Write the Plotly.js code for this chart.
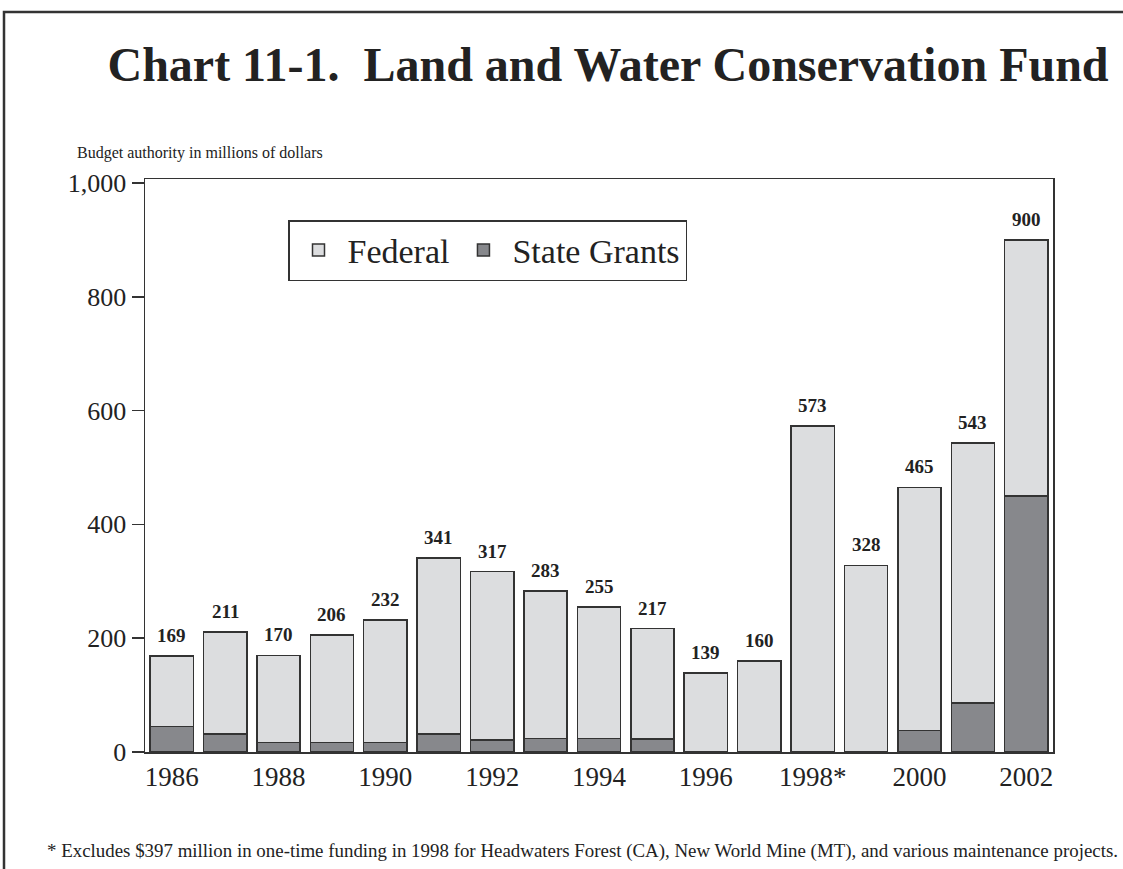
<!DOCTYPE html>
<html>
<head>
<meta charset="utf-8">
<script src="https://cdn.plot.ly/plotly-3.0.1.min.js"></script>
<style>html,body{margin:0;padding:0;background:#fff;}#chart{width:1123px;height:869px;}</style>
</head>
<body>
<div id="chart"></div>
<script>
const years = ["1986","1987","1988","1989","1990","1991","1992","1993","1994","1995","1996","1997","1998","1999","2000","2001","2002"];
const totals = [169,211,170,206,232,341,317,283,255,217,139,160,573,328,465,543,900];
const stateGrants = [45,32,17,17,17,32,21,24,24,23,0,0,0,0,38,86,450];
const federal = totals.map((t,i)=>t-stateGrants[i]);
const tickYears = ["1986","1988","1990","1992","1994","1996","1998","2000","2002"];
const tickLabels = ["1986","1988","1990","1992","1994","1996","1998*","2000","2002"];

const serif = "Liberation Serif, Times New Roman, serif";
const lineCol = "#333333";

const traces = [
  {type:"bar", name:"State Grants", x:years, y:stateGrants,
   marker:{color:"#87888c", line:{color:lineCol, width:1.5}}, hoverinfo:"skip"},
  {type:"bar", name:"Federal", x:years, y:federal,
   marker:{color:"#dcdddf", line:{color:lineCol, width:1.5}}, hoverinfo:"skip"}
];

const annotations = totals.map((t,i)=>({
  x: years.indexOf(years[i]), y: t, xref:"x", yref:"y", text: "<b>" + t + "</b>", showarrow:false,
  yanchor:"bottom", yshift:8, font:{family:serif, size:19, color:"#222"}
}));
annotations.push({
  xref:"paper", yref:"paper", x:(75-145)/908, y:(752-153)/573, xanchor:"left", yanchor:"middle",
  text:"Budget authority in millions of dollars", showarrow:false,
  font:{family:serif, size:16, color:"#222"}
});
annotations.push({
  xref:"paper", yref:"paper", x:(582-145)/908, y:(752-851)/573, xanchor:"center", yanchor:"middle",
  text:"* Excludes $397 million in one-time funding in 1998 for Headwaters Forest (CA), New World Mine (MT), and various maintenance projects.",
  showarrow:false, font:{family:serif, size:18.9, color:"#222"}
});

const layout = {
  width:1123, height:869,
  margin:{l:145, r:70, t:179, b:117},
  paper_bgcolor:"#fff", plot_bgcolor:"#fff",
  barmode:"stack", bargap:0.19,
  title:{text:"<b>Chart 11-1.  Land and Water Conservation Fund</b>",
         font:{family:serif, size:48, color:"#222"}, x:(608)/1123, xanchor:"center", y:1-64/869, yanchor:"middle"},
  xaxis:{type:"category", categoryorder:"array", categoryarray:years, range:[-0.5,16.5],
         tickmode:"array", tickvals:tickYears, ticktext:tickLabels, ticks:"", showgrid:false,
         showline:true, linecolor:lineCol, linewidth:1.5, mirror:true,
         tickfont:{family:serif, size:27, color:"#222"}, ticklabelstandoff:0, zeroline:false},
  yaxis:{range:[0,1007], tickvals:[0,200,400,600,800,1000], tickformat:",", ticks:"outside", ticklen:12,
         tickcolor:lineCol, tickwidth:1.5, showgrid:false, showline:true, linecolor:lineCol, linewidth:1.5, mirror:true,
         tickfont:{family:serif, size:26, color:"#222"}, zeroline:false},
  showlegend:true,
  legend:{x:(288-145)/908, y:(752-220)/573, xanchor:"left", yanchor:"top", orientation:"h",
          traceorder:"reversed", bordercolor:lineCol, borderwidth:1.5, bgcolor:"#fff",
          font:{family:serif, size:34, color:"#222"}, itemwidth:48},
  annotations: annotations,
  shapes:[
    {type:"rect", xref:"paper", yref:"paper", x0:(4-145)/908, x1:(1140-145)/908, y0:(752-900)/573, y1:(752-12)/573,
     line:{color:lineCol, width:2.5}, fillcolor:"rgba(0,0,0,0)", layer:"below"}
  ]
};

Plotly.newPlot("chart", traces, layout, {staticPlot:true, displayModeBar:false});
</script>
</body>
</html>
